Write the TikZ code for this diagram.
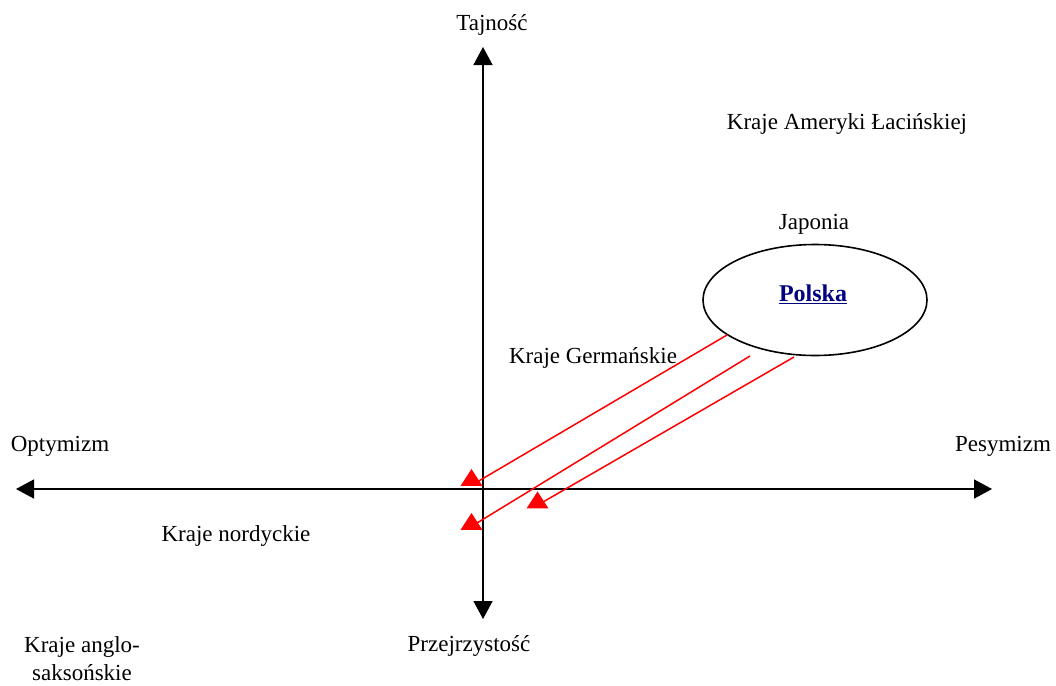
\documentclass[tikz,border=0pt]{standalone}
\usepackage{fontspec}
\setmainfont{Liberation Serif}
\usetikzlibrary{arrows.meta,shapes.geometric}
\definecolor{linkblue}{RGB}{0,0,128}

\begin{document}
\begin{tikzpicture}[
    x=1pt, y=-1pt,
    txt/.style={font=\fontsize{23}{28}\selectfont, inner sep=0pt, align=center},
    axis/.style={line width=1.6pt, {Triangle[length=18pt,width=19pt]}-{Triangle[length=18pt,width=19pt]}},
    redline/.style={draw=red, line width=1.5pt},
    redtip/.style={isosceles triangle, isosceles triangle stretches, shape border rotate=90, fill=red, inner sep=0pt, minimum width=22pt, minimum height=17pt},
    country/.style={ellipse, draw, line width=1.6pt, minimum width=224pt, minimum height=111pt}
]
\useasboundingbox (0,0) rectangle (1056,685);
% axes
\coordinate (left) at (16,489);
\coordinate (right) at (992,489);
\coordinate (top) at (483,47);
\coordinate (bottom) at (483,619);
\draw[axis] (left) -- (right);
\draw[axis] (top) -- (bottom);
\node[txt] (secret) at (492,25) {Tajność};
\node[txt] (open) at (469,646) {Przejrzystość};
\node[txt] (optim) at (60,446) {Optymizm};
\node[txt] (pessim) at (1003,446) {Pesymizm};
% countries
\node[txt] (latin) at (847,124) {Kraje Ameryki Łacińskiej};
\node[txt] (japan) at (814,224) {Japonia};
\node[country] (poland) at (815,300) {};
\node[txt, font=\fontsize{24}{28}\selectfont\bfseries, text=linkblue] (plname) at (813,294) {\underline{Polska}};
\node[txt] (german) at (593,358) {Kraje Germańskie};
\node[txt] (nordic) at (236,536) {Kraje nordyckie};
\node[txt] (anglo) at (82,659) {Kraje anglo-\\saksońskie};
% shifts
\coordinate (s1) at (727,335);
\coordinate (s2) at (750,356);
\coordinate (s3) at (794,357);
\coordinate (e1) at (477,482);
\coordinate (e2) at (477,523);
\coordinate (e3) at (543,502);
\draw[redline] (s1) -- (e1);
\draw[redline] (s2) -- (e2);
\draw[redline] (s3) -- (e3);
\node[redtip] (t1) at (471.5,480) {};
\node[redtip] (t2) at (471.5,524) {};
\node[redtip] (t3) at (537.5,502.5) {};
\end{tikzpicture}
\end{document}
